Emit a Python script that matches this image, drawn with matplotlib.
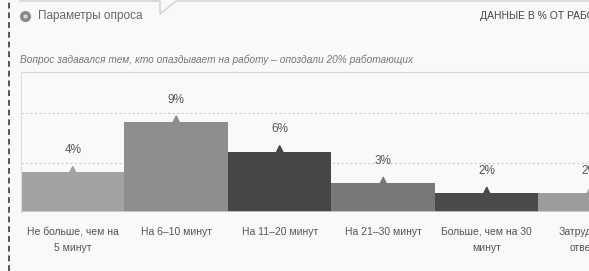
import matplotlib
matplotlib.use("Agg")
import matplotlib.pyplot as plt
from matplotlib.lines import Line2D
from matplotlib.transforms import blended_transform_factory

plt.rcParams["font.family"] = ["Liberation Sans", "DejaVu Sans"]

# ----------------------------------------------------------------------------
# Data (share of workers, %)
# ----------------------------------------------------------------------------
categories = ["Не больше, чем на\n5 минут", "На 6–10 минут", "На 11–20 минут",
              "На 21–30 минут", "Больше, чем на 30\nминут", "Затрудняюсь\nответить"]
values = [4.0, 9.1, 6.1, 2.9, 1.9, 1.9]
value_labels = ["4%", "9%", "6%", "3%", "2%", "2%"]
bar_colors = ["#a2a2a2", "#8e8e8e", "#464646", "#787878", "#4a4a4a", "#9c9c9c"]
grid_levels = [5, 10]

title_left = "Параметры опроса"
title_right = "ДАННЫЕ В % ОТ РАБОТАЮЩИХ"
subtitle = "Вопрос задавался тем, кто опаздывает на работу – опоздали 20% работающих"

W, H = 589, 271
BG = "#f9f9f9"


def fx(x):
    return x / W


def fy(y):
    return 1 - y / H


fig = plt.figure(figsize=(W / 100, H / 100), dpi=100, facecolor=BG)

# page decoration: dashed left rule, bubble border with tail
fig.add_artist(Line2D([fx(9), fx(9)], [0, 1], color="#555555", lw=1.4,
                      ls=(0, (3, 2)), transform=fig.transFigure))
fig.add_artist(Line2D([fx(20), fx(160), fx(160), fx(176), fx(589)],
                      [fy(1), fy(1), fy(14), fy(1), fy(1)],
                      color="#cfcfcf", lw=1, transform=fig.transFigure))

# header
fig.add_artist(Line2D([fx(25)], [fy(16)], marker="o", ms=7, color="#8a8a8a",
                      transform=fig.transFigure))
fig.add_artist(Line2D([fx(25)], [fy(16)], marker="o", ms=2, color="#d8d8d8",
                      transform=fig.transFigure))
fig.text(fx(38), fy(16), title_left, fontsize=8.5, color="#666666", va="center")
fig.text(fx(480), fy(16), title_right, fontsize=7.5, color="#444444", va="center")
fig.text(fx(20), fy(60), subtitle, fontsize=7.3, color="#777777",
         va="center", style="italic")

# chart area
left, right, top, bottom = 21, 589, 72, 212
ax = fig.add_axes([fx(left), fy(bottom), (right - left) / W, (bottom - top) / H])
ax.set_facecolor(BG)
bar_px = 103.5
ax.set_xlim(0, (right - left) / bar_px)
ax.set_ylim(0, (bottom - top) / 9.9)

for lvl in grid_levels:
    ax.axhline(lvl, color="#cccccc", lw=0.8, ls=(0, (2, 2)), zorder=0)

xs = [i + 0.5 for i in range(len(values))]
ax.bar(xs, values, width=1.0, color=bar_colors, zorder=2)
ax.scatter(xs, [v + 0.25 for v in values], marker="^", s=24,
           c=bar_colors, zorder=3, clip_on=False)

for x, v, lab in zip(xs, values, value_labels):
    ax.annotate(lab, (x, v), xytext=(0, 16), textcoords="offset points",
                ha="center", va="center", fontsize=8.5, color="#555555",
                annotation_clip=False)

trans = blended_transform_factory(ax.transData, ax.transAxes)
for x, cat in zip(xs, categories):
    ax.text(x, -0.105, cat, transform=trans, ha="center", va="top",
            fontsize=7.5, color="#555555", linespacing=1.75, clip_on=False)

for side in ["right", "bottom"]:
    ax.spines[side].set_visible(False)
ax.spines["left"].set_color("#dddddd")
ax.spines["top"].set_color("#d8d8d8")
ax.axhline(0, color="#d0d0d0", lw=1.2, zorder=4)
ax.set_xticks([])
ax.set_yticks([])

fig.savefig("out.png", dpi=100, facecolor=BG)
